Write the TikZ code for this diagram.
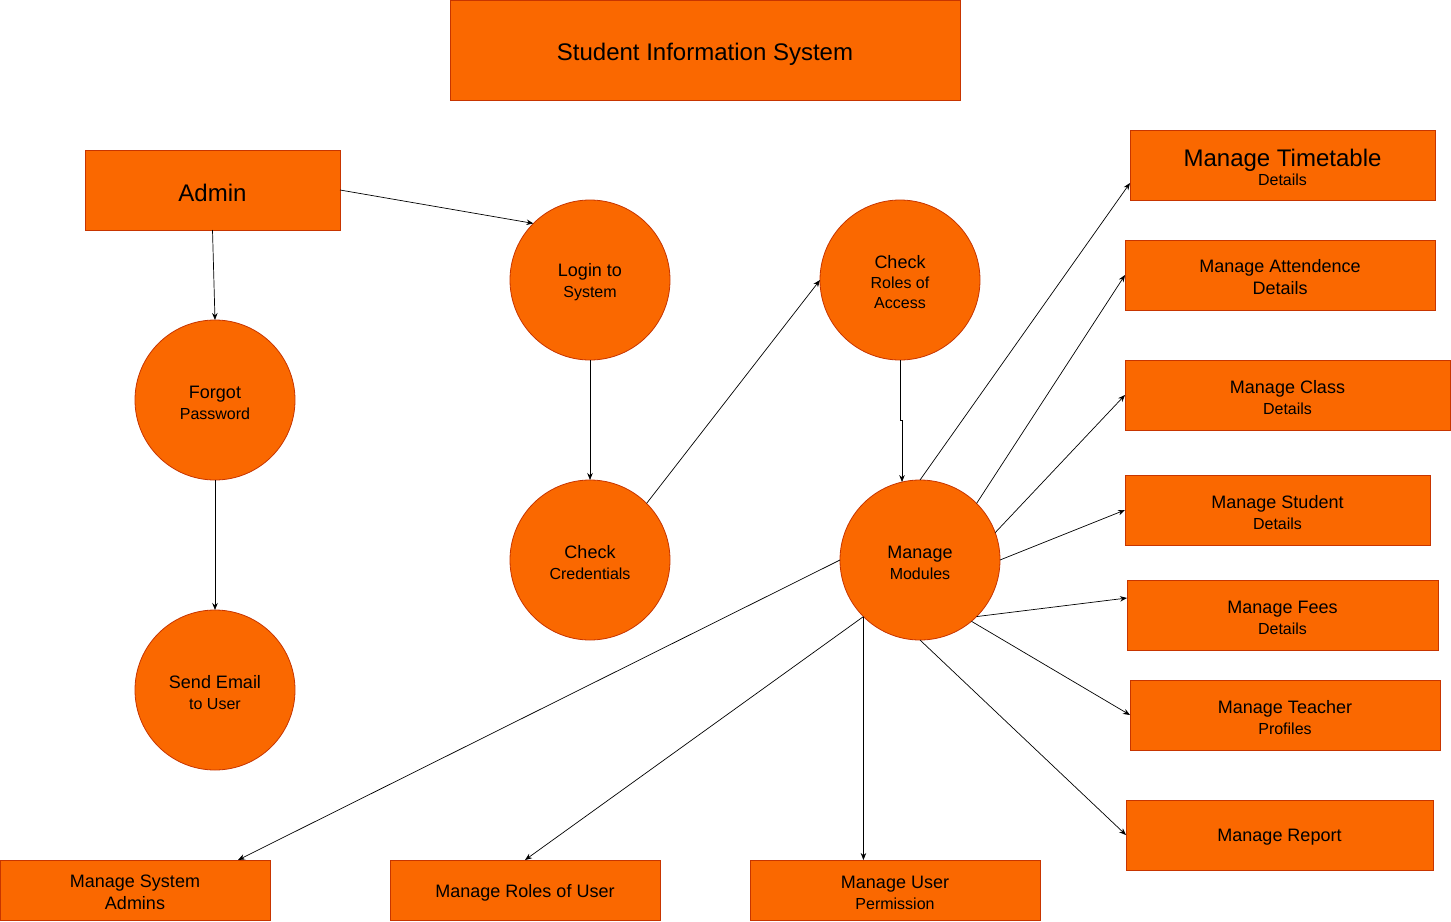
\documentclass[tikz,border=0pt]{standalone}
\usepackage{fontspec}
\setmainfont{Liberation Sans}
\usetikzlibrary{arrows.meta,calc}
\definecolor{boxfill}{HTML}{FA6800}
\definecolor{boxline}{HTML}{C73500}
\newcommand\fHuge{\fontsize{24}{26}\selectfont}
\newcommand\fMain{\fontsize{18}{21}\selectfont}
\newcommand\fSub{\fontsize{16}{21}\selectfont}
\begin{document}
\begin{tikzpicture}[x=1pt,y=-1pt,
  every node/.style={inner sep=0pt,outer sep=0pt,align=center,text=black,font=\fSub},
  txt/.style={yshift=-2.5pt},
  proc/.style={circle,draw=boxline,fill=boxfill,line width=0.8pt,minimum size=160pt},
  entity/.style={rectangle,draw=boxline,fill=boxfill,line width=0.8pt},
  flow/.style={draw=black,line width=0.7pt,-{Stealth[length=7pt,width=5.5pt]}}]
\useasboundingbox (0,0) rectangle (1451,921);

% heading
\node[entity,minimum width=510pt,minimum height=100pt,
  label={[txt,yshift=-1.5pt]center:{\fHuge Student Information System}}] (sis) at (705,50) {};

% actor
\node[entity,minimum width=255pt,minimum height=80pt,
  label={[txt]center:{\fHuge Admin}}] (adm) at (212.5,190) {};

% processes
\node[proc,label={[txt]center:{\fMain Login to\\\fSub System}}] (login) at (590,280) {};
\node[proc,label={[txt]center:{\fMain Check\\[-1pt]\fSub Roles of\\[-1pt]\fSub Access}}] (roles) at (900,280) {};
\node[proc,label={[txt]center:{\fMain Forgot\\\fSub Password}}] (forgot) at (215,400) {};
\node[proc,label={[txt]center:{\fMain Check\\\fSub Credentials}}] (cred) at (590,560) {};
\node[proc,label={[txt]center:{\fMain Manage\\\fSub Modules}}] (mod) at (920,560) {};
\node[proc,label={[txt]center:{\fMain Send Email\\\fSub to User}}] (email) at (215,690) {};

% module boxes on the right
\node[entity,minimum width=305pt,minimum height=70pt,
  label={[txt]center:{\fHuge Manage Timetable\\[-2pt]\fSub Details}}] (tt) at (1282.5,165) {};
\node[entity,minimum width=310pt,minimum height=70pt,
  label={[txt]center:{\fMain Manage Attendence\\[1pt]\fMain Details}}] (att) at (1280,275) {};
\node[entity,minimum width=325pt,minimum height=70pt,
  label={[txt]center:{\fMain Manage Class\\\fSub Details}}] (cls) at (1287.5,395) {};
\node[entity,minimum width=305pt,minimum height=70pt,
  label={[txt]center:{\fMain Manage Student\\\fSub Details}}] (stu) at (1277.5,510) {};
\node[entity,minimum width=311pt,minimum height=70pt,
  label={[txt]center:{\fMain Manage Fees\\\fSub Details}}] (fee) at (1282.5,615) {};
\node[entity,minimum width=310pt,minimum height=70pt,
  label={[txt]center:{\fMain Manage Teacher\\\fSub Profiles}}] (tea) at (1285,715) {};
\node[entity,minimum width=307pt,minimum height=70pt,
  label={[txt]center:{\fMain Manage Report}}] (rep) at (1279.5,835) {};

% module boxes at the bottom
\node[entity,minimum width=270pt,minimum height=60pt,
  label={[txt]center:{\fMain Manage System\\[1pt]\fMain Admins}}] (sa) at (135,890) {};
\node[entity,minimum width=270pt,minimum height=60pt,
  label={[txt]center:{\fMain Manage Roles of User}}] (ru) at (525,890) {};
\node[entity,minimum width=290pt,minimum height=60pt,
  label={[txt]center:{\fMain Manage User\\\fSub Permission}}] (up) at (895,890) {};

% login flow
\draw[flow] (adm.east) -- (login.135);
\draw[flow] (adm.south) -- (forgot.north);
\draw[flow] (forgot.south) -- (email.north);
\draw[flow] (login.south) -- (cred.north);
\draw[flow] (cred.45) -- (roles.west);
\draw[flow] (roles.south) -- ++(0,60) -| (mod.103);

% module connections
\draw[flow] (mod.north) -- ($(tt.west)+(0,18)$);
\draw[flow] (mod.45) -- (att.west);
\draw[flow] (mod.20) -- (cls.west);
\draw[flow] (mod.east) -- (stu.west);
\draw[flow] (mod.-45) -- ($(fee.west)+(0,-17)$);
\draw[flow] (mod.-50) -- (tea.west);
\draw[flow] (mod.south) -- (rep.west);
\draw[flow] (mod.west) -- ($(sa.north)+(103,0)$);
\draw[flow] (mod.-135) -- (ru.north);
\draw[flow] (mod.-135) -- (mod.-135 |- up.north);
\end{tikzpicture}
\end{document}
